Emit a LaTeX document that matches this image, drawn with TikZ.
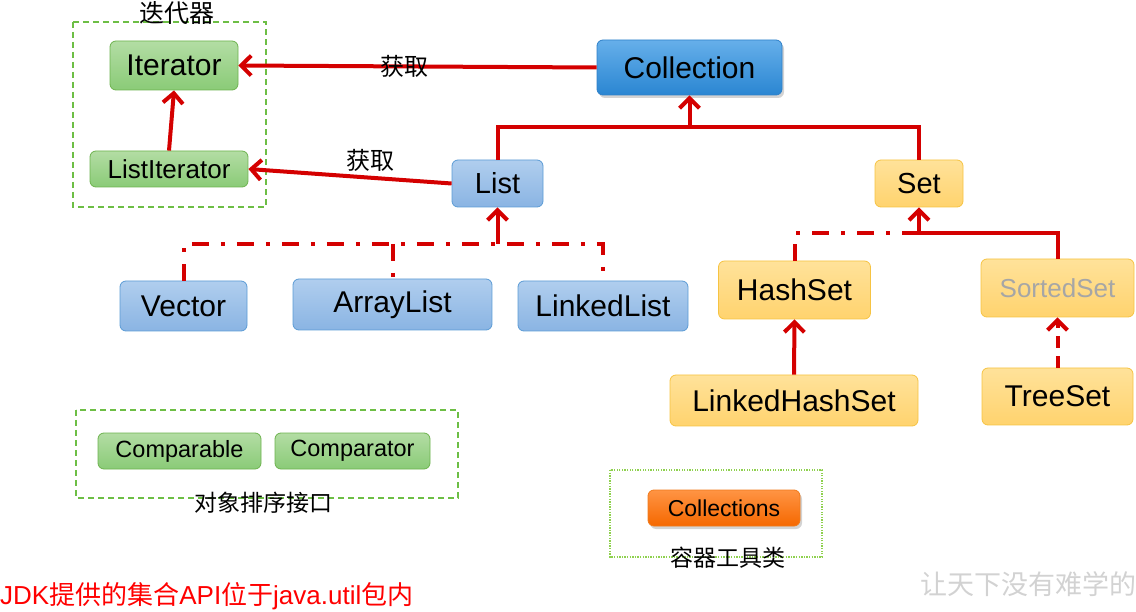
\documentclass[tikz,border=0pt]{standalone}
\usepackage{fontspec}
\setmainfont{Liberation Sans}
\newfontfamily\cjk{Noto Sans CJK SC}
\usetikzlibrary{arrows.meta,shadows}
\definecolor{ared}{HTML}{D40000}
\definecolor{bluedraw}{HTML}{5B9BD5}
\definecolor{bluetop}{HTML}{B0CEEE}
\definecolor{bluebot}{HTML}{8AB4E3}
\definecolor{colldraw}{HTML}{2F80C8}
\definecolor{colltop}{HTML}{66AFEA}
\definecolor{collbot}{HTML}{2A86D2}
\definecolor{greendraw}{HTML}{6DB34E}
\definecolor{greentop}{HTML}{B3DDA4}
\definecolor{greenbot}{HTML}{8ACB77}
\definecolor{yeldraw}{HTML}{F6C342}
\definecolor{yeltop}{HTML}{FFE29A}
\definecolor{yelbot}{HTML}{FFD36E}
\definecolor{ordraw}{HTML}{F07A1A}
\definecolor{ortop}{HTML}{FF9444}
\definecolor{orbot}{HTML}{F56800}
\definecolor{gline}{HTML}{6DBE45}
\definecolor{gdot}{HTML}{8FD14F}
\definecolor{sgray}{HTML}{A6A6A6}
\definecolor{wmark}{HTML}{D2D2D2}
\begin{document}
\begin{tikzpicture}[x=1pt,y=-1pt,
  box/.style={rounded corners=6pt, inner sep=0pt, align=center, line width=0.8pt, text=black},
  sz/.style 2 args={minimum width=#1pt, minimum height=#2pt},
  fs/.style={font=\fontsize{#1}{#1}\selectfont},
  bluebox/.style={box, draw=bluedraw, top color=bluetop, bottom color=bluebot},
  collbox/.style={box, draw=colldraw, top color=colltop, bottom color=collbot,
     drop shadow={opacity=0.35, shadow xshift=2pt, shadow yshift=-3pt}},
  greenbox/.style={box, draw=greendraw, top color=greentop, bottom color=greenbot},
  yelbox/.style={box, draw=yeldraw, top color=yeltop, bottom color=yelbot},
  orbox/.style={box, draw=ordraw, top color=ortop, bottom color=orbot,
     drop shadow={opacity=0.35, shadow xshift=2pt, shadow yshift=-3pt}},
  con/.style={draw=ared, line width=4pt},
  arr/.style={-{Straight Barb[length=10pt,width=20pt]}},
  dd/.style={dash pattern=on 17pt off 12pt on 4pt off 12pt},
  dsh/.style={dash pattern=on 12pt off 8pt},
  cjklabel/.style={font=\cjk\fontsize{#1}{#1}\selectfont, inner sep=0pt}
]
\useasboundingbox (0,0) rectangle (1136,612);

% group frames
\draw[gline, line width=1.3pt, dash pattern=on 6pt off 4pt] (73,22) rectangle (266,207);
\node[cjklabel=25] (lbliter) at (177,13) {迭代器};
\draw[gline, line width=1.3pt, dash pattern=on 6pt off 4pt] (76,410) rectangle (458,498);
\node[cjklabel=23] (lblsort) at (263,503) {对象排序接口};
\draw[gdot, line width=1.3pt, dash pattern=on 1.3pt off 1.3pt] (610,470) rectangle (822,557);
\node[cjklabel=23] (lbltool) at (728,558) {容器工具类};

% nodes
\node[greenbox, sz={128}{49}, fs=30] (Iterator) at (174,65.5) {Iterator};
\node[greenbox, sz={158}{36}, fs=26] (ListIterator) at (169,169) {ListIterator};
\node[collbox, sz={185}{55}, fs=30] (Collection) at (689.5,67.5) {Collection};
\node[bluebox, sz={91}{47}, fs=29] (List) at (497.5,183.5) {List};
\node[yelbox, sz={88}{47}, fs=29] (Set) at (919,183.5) {Set};
\node[bluebox, sz={127}{50}, fs=30] (Vector) at (183.5,306) {Vector};
\node[bluebox, sz={199}{51}, fs=30] (ArrayList) at (392.5,304.5) {ArrayList};
\node[bluebox, sz={170}{50}, fs=30] (LinkedList) at (603,306) {LinkedList};
\node[yelbox, sz={152}{58}, fs=30] (HashSet) at (794.5,290) {HashSet};
\node[yelbox, sz={153}{58}, text=sgray, fs=26] (SortedSet) at (1057.5,288) {SortedSet};
\node[yelbox, sz={248}{51}, fs=30] (LinkedHashSet) at (794,400.5) {LinkedHashSet};
\node[yelbox, sz={151}{57}, fs=30] (TreeSet) at (1057.5,396.5) {TreeSet};
\node[greenbox, sz={163}{36}, fs=23.5] (Comparable) at (179.5,451) {Comparable};
\node[greenbox, sz={155}{36}, fs=23.5] (Comparator) at (352.5,451) {Comparator};
\node[orbox, sz={152}{36}, fs=23] (Collections) at (724,508) {Collections};

% level coordinates
\coordinate (lvl1) at (0,127);
\coordinate (lvl2) at (0,244);
\coordinate (lvl3) at (0,233.5);

% connectors
\draw[con,arr] (Collection.west) -- (Iterator.east);
\node[cjklabel=24] (get1) at (404,66) {获取};
\draw[con,arr] (ListIterator.north) -- (Iterator.south);
\draw[con,arr] (List.west) -- (ListIterator.east);
\node[cjklabel=24] (get2) at (370,160) {获取};

\draw[con] (List.north) |- (Set.north |- lvl1) -- (Set.north);
\draw[con,arr] (Collection.south |- lvl1) -- (Collection.south);

\draw[con,dd] (Vector.north) |- (LinkedList.north |- lvl2) -- (LinkedList.north);
\draw[con,dd] (ArrayList.north |- lvl2) -- (ArrayList.north);
\draw[con,arr] (List.south |- lvl2) -- (List.south);

\draw[con,dd] (HashSet.north) |- (Set.south |- lvl3);
\draw[con] (SortedSet.north) |- (Set.south |- lvl3);
\draw[con,arr] (Set.south |- lvl3) -- (Set.south);
\draw[con,arr] (LinkedHashSet.north) -- (HashSet.south);
\draw[con,arr,dsh] (TreeSet.north) -- (SortedSet.south);

% captions
\node[anchor=west, inner sep=0pt, text=red, font=\fontsize{26}{26}\selectfont] (jdk) at (0,596)
  {JDK{\cjk 提供的集合}API{\cjk 位于}java.util{\cjk 包内}};
\node[inner sep=0pt, text=wmark, font=\cjk\fontsize{27}{27}\selectfont] (wm) at (1028,584) {让天下没有难学的};
\end{tikzpicture}
\end{document}
